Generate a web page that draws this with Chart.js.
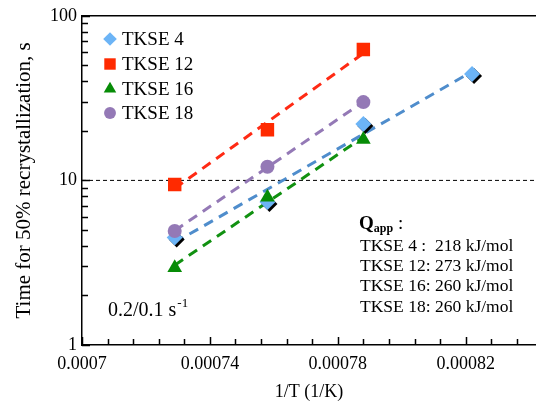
<!DOCTYPE html>
<html lang="en">
<head>
<meta charset="UTF-8">
<title>Time for 50% recrystallization vs 1/T</title>
<script src="https://cdn.jsdelivr.net/npm/chart.js"></script>
<style>
  body { margin: 0; background: #fff; }
  canvas { display: block; }
</style>
</head>
<body>
<canvas id="chart" width="536" height="406"></canvas>
<script>
// data
const seriesNames = ['TKSE 4', 'TKSE 12', 'TKSE 16', 'TKSE 18'];
const invT = [0.000729, 0.000758, 0.000788, 0.000822];
const tkse4 = [4.5, 7.4, 22.0, 44.3];
const tkse12 = [9.45, 20.3, 62.4];
const tkse16 = [2.95, 7.9, 17.7];
const tkse18 = [4.93, 12.1, 29.9];
const xLabelTicks = [0.0007, 0.00074, 0.00078, 0.00082];
const yLabelTicks = [1, 10, 100];
const qappLabels = ['TKSE 4 :', 'TKSE 12:', 'TKSE 16:', 'TKSE 18:'];
const qappValues = ['218 kJ/mol', '273 kJ/mol', '260 kJ/mol', '260 kJ/mol'];
const refLevel = 10;

const allSeries = [tkse4, tkse12, tkse16, tkse18];
const markerColors = ['#6cb4f6', '#ff2a00', '#078c07', '#9479b6'];
const lineColors = ['#4f8dcc', '#ff2a14', '#119111', '#9479b6'];
const markerStyles = ['rectRot', 'rect', 'triangle', 'circle'];
const markerSizes = [8, 9.5, 8.5, 7];
const markerOrder = [4, 1, 2, 1];
const serif = '"Liberation Serif", "Times New Roman", serif';

// least squares in log space, drawn between first and last point
function fitLine(ys) {
  const xs = invT.slice(0, ys.length);
  const ly = ys.map(v => Math.log10(v));
  const n = xs.length;
  const mx = xs.reduce((a, b) => a + b, 0) / n;
  const my = ly.reduce((a, b) => a + b, 0) / n;
  let sxy = 0, sxx = 0;
  for (let i = 0; i < n; i++) {
    sxy += (xs[i] - mx) * (ly[i] - my);
    sxx += (xs[i] - mx) * (xs[i] - mx);
  }
  const b = sxy / sxx, a = my - b * mx;
  return [xs[0], xs[n - 1]].map(x => ({ x: x, y: Math.pow(10, a + b * x) }));
}

const datasets = [];
allSeries.forEach((ys, i) => {
  datasets.push({
    type: 'scatter',
    label: seriesNames[i],
    data: ys.map((y, j) => ({ x: invT[j], y: y })),
    pointStyle: markerStyles[i],
    pointRadius: markerSizes[i],
    pointHoverRadius: markerSizes[i],
    backgroundColor: markerColors[i],
    borderWidth: 0,
    order: markerOrder[i]
  });
  datasets.push({
    type: 'line',
    label: seriesNames[i] + ' fit',
    data: fitLine(ys),
    borderColor: lineColors[i],
    borderWidth: 3,
    borderDash: [10, 7],
    pointRadius: 0,
    fill: false,
    order: 10
  });
});

const decorations = {
  id: 'decorations',
  beforeDatasetsDraw(chart) {
    const { ctx, chartArea: area, scales: { y } } = chart;
    const py = y.getPixelForValue(refLevel);
    ctx.save();
    ctx.strokeStyle = '#000';
    ctx.lineWidth = 1;
    ctx.setLineDash([4, 3]);
    ctx.beginPath();
    ctx.moveTo(area.left, py);
    ctx.lineTo(area.right, py);
    ctx.stroke();
    ctx.restore();
  },
  beforeDatasetDraw(chart, args) {
    // dark shadow under the blue diamonds
    if (args.index !== 0) return;
    const ctx = chart.ctx;
    ctx.save();
    ctx.fillStyle = '#000';
    args.meta.data.forEach(pt => {
      const r = markerSizes[0];
      const cx = pt.x + 2, cy = pt.y + 2;
      ctx.beginPath();
      ctx.moveTo(cx, cy - r);
      ctx.lineTo(cx + r, cy);
      ctx.lineTo(cx, cy + r);
      ctx.lineTo(cx - r, cy);
      ctx.closePath();
      ctx.fill();
    });
    ctx.restore();
  },
  afterDraw(chart) {
    const { ctx, chartArea: area, scales: { x, y } } = chart;
    ctx.save();
    ctx.setLineDash([]);
    ctx.strokeStyle = '#000';
    ctx.lineWidth = 1.5;
    // top frame line
    ctx.beginPath();
    ctx.moveTo(area.left, area.top);
    ctx.lineTo(area.right, area.top);
    ctx.stroke();
    // inner ticks
    ctx.lineWidth = 1.5;
    ctx.beginPath();
    for (let k = 0; k <= 17; k++) {
      const px = Math.round(x.getPixelForValue(0.0007 + k * 0.000008)) + 0.5;
      const len = k % 5 === 0 ? 8 : 6;
      ctx.moveTo(px, area.bottom);
      ctx.lineTo(px, area.bottom - len);
    }
    [1, 10].forEach(d => {
      for (let m = 1; m <= 10; m++) {
        const py = Math.round(y.getPixelForValue(d * m)) + 0.5;
        const len = m === 1 || m === 10 ? 8 : 6;
        ctx.moveTo(area.left, py);
        ctx.lineTo(area.left + len, py);
      }
    });
    ctx.stroke();

    // legend
    const rows = [39, 64, 89, 113];
    ctx.font = '19px ' + serif;
    ctx.textBaseline = 'middle';
    rows.forEach((ry, i) => {
      ctx.fillStyle = markerColors[i];
      Chart.helpers.drawPoint(ctx, {
        pointStyle: markerStyles[i],
        radius: markerSizes[i] * 0.85,
        rotation: 0,
        borderWidth: 0
      }, 110, ry);
      ctx.fillStyle = '#000';
      ctx.fillText(seriesNames[i], 122, ry + 1);
    });

    // strain rate note
    ctx.font = '20px ' + serif;
    const note = '0.2/0.1 s';
    ctx.fillText(note, 108, 311);
    const nw = ctx.measureText(note).width;
    ctx.font = '13px ' + serif;
    ctx.fillText('-1', 108 + nw + 1, 304);

    // activation energies
    ctx.font = 'bold 19px ' + serif;
    ctx.fillText('Q', 359, 224);
    let qx = 359 + ctx.measureText('Q').width;
    ctx.font = 'bold 12px ' + serif;
    ctx.fillText('app', qx, 229);
    qx += ctx.measureText('app').width;
    ctx.font = '19px ' + serif;
    ctx.fillText(' :', qx, 224);
    ctx.font = '17.5px ' + serif;
    const qRows = [246, 266, 286, 307];
    qRows.forEach((ry, i) => {
      ctx.fillText(qappLabels[i], 360, ry);
      ctx.fillText(qappValues[i], 435, ry);
    });
    ctx.restore();
  }
};

new Chart(document.getElementById('chart'), {
  data: { datasets: datasets },
  options: {
    responsive: false,
    animation: false,
    layout: { autoPadding: false, padding: { top: 13, right: 0, left: 0, bottom: 0 } },
    plugins: { legend: { display: false }, tooltip: { enabled: false } },
    scales: {
      x: {
        type: 'linear',
        min: 0.0007,
        max: 0.000842,
        afterBuildTicks: s => { s.ticks = xLabelTicks.map(v => ({ value: v })); },
        afterFit: s => { s.height = 61; s.paddingRight = 0; s.paddingLeft = 0; },
        grid: { display: true, drawOnChartArea: false, drawTicks: false },
        border: { display: true, color: '#000', width: 1.5 },
        ticks: {
          autoSkip: false,
          maxRotation: 0,
          padding: 8,
          color: '#000',
          font: { family: serif, size: 18 },
          callback: v => Number(v.toFixed(6)).toString()
        },
        title: {
          display: true,
          text: '1/T (1/K)',
          color: '#000',
          font: { family: serif, size: 18 },
          padding: { top: 0, bottom: 3 }
        }
      },
      y: {
        type: 'logarithmic',
        min: 1,
        max: 100,
        afterBuildTicks: s => { s.ticks = yLabelTicks.map(v => ({ value: v })); },
        afterFit: s => { s.width = 82; },
        grid: { display: true, drawOnChartArea: false, drawTicks: false },
        border: { display: true, color: '#000', width: 1.5 },
        ticks: {
          padding: 5,
          color: '#000',
          font: { family: serif, size: 18 },
          callback: v => v.toString()
        },
        title: {
          display: true,
          text: 'Time for 50% recrystallization, s',
          color: '#000',
          font: { family: serif, size: 21 },
          padding: { top: 12, bottom: 0 }
        }
      }
    }
  },
  plugins: [decorations]
});
</script>
</body>
</html>
